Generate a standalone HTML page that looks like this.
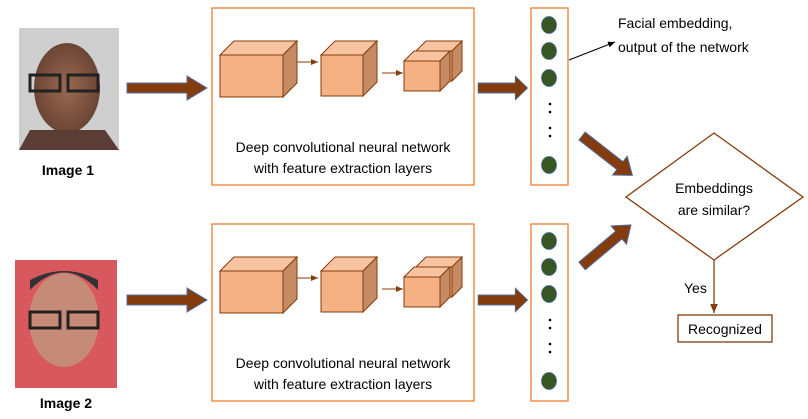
<!DOCTYPE html>
<html><head><style>
body{margin:0;background:#fff;width:808px;height:414px;overflow:hidden;font-family:"Liberation Sans",sans-serif}
</style></head><body>
<svg width="808" height="414" viewBox="0 0 808 414" xmlns="http://www.w3.org/2000/svg" font-family="Liberation Sans, sans-serif">
<defs>
<marker id="ah" markerWidth="8" markerHeight="8" refX="7" refY="4" orient="auto"><path d="M0,1 L7,4 L0,7z" fill="#843c0c"/></marker>
<marker id="ak" markerWidth="8" markerHeight="8" refX="7" refY="4" orient="auto"><path d="M0,1 L7,4 L0,7z" fill="#000"/></marker>
<g id="fat"><path d="M0,-5 L60,-5 L60,-12 L80,0 L60,12 L60,5 L0,5z" fill="#843c0c" stroke="#4f6fa8" stroke-width="1"/></g>
<g id="cube">
<path d="M0,14 L14,0 L77,0 L63,14z" fill="#f8c3a0" stroke="#843c0c"/>
</g>
<radialGradient id="face1" cx="50%" cy="50%" r="50%"><stop offset="0" stop-color="#9a6a50"/><stop offset="1" stop-color="#6b4535"/></radialGradient>
</defs>

<!-- photos -->
<rect x="19" y="28" width="100" height="122" fill="#cfcfcf"/>
<ellipse cx="67" cy="88" rx="33" ry="45" fill="url(#face1)"/>
<rect x="30" y="75" width="30" height="16" fill="none" stroke="#222" stroke-width="3"/>
<rect x="68" y="75" width="30" height="16" fill="none" stroke="#222" stroke-width="3"/>
<path d="M19,150 L30,130 L105,130 L119,150z" fill="#5a3d35"/>
<text x="68" y="175" font-size="14" font-weight="bold" text-anchor="middle">Image 1</text>

<rect x="15" y="260" width="102" height="128" fill="#d8585e"/>
<ellipse cx="64" cy="320" rx="35" ry="47" fill="#c68a78"/>
<path d="M30,290 Q64,255 98,290 L98,280 Q64,262 30,280z" fill="#333"/>
<rect x="30" y="312" width="30" height="16" fill="none" stroke="#222" stroke-width="3"/>
<rect x="68" y="312" width="30" height="16" fill="none" stroke="#222" stroke-width="3"/>
<text x="66" y="408" font-size="14" font-weight="bold" text-anchor="middle">Image 2</text>

<!-- fat arrows -->
<use href="#fat" transform="translate(127,88)"/>
<use href="#fat" transform="translate(127,300)"/>
<use href="#fat" transform="translate(478,88) scale(0.62,1)"/>
<use href="#fat" transform="translate(478,300) scale(0.62,1)"/>
<use href="#fat" transform="translate(582,136) rotate(38) scale(0.8,1)"/>
<use href="#fat" transform="translate(582,266) rotate(-40) scale(0.8,1)"/>

<g id="row">
<rect x="212" y="8" width="262" height="177" fill="#fff" stroke="#ed7d31" stroke-width="1.3"/>
<!-- cube1 -->
<path d="M220,55 L234,41 L297,41 L283,55z" fill="#f8c3a0" stroke="#843c0c"/>
<path d="M283,55 L297,41 L297,83 L283,97z" fill="#c48b65" stroke="#843c0c"/>
<rect x="220" y="55" width="63" height="42" fill="#f4b183" stroke="#843c0c"/>
<line x1="297" y1="62" x2="318" y2="62" stroke="#843c0c" marker-end="url(#ah)"/>
<!-- cube2 -->
<path d="M321,55 L335,41 L377,41 L363,55z" fill="#f8c3a0" stroke="#843c0c"/>
<path d="M363,55 L377,41 L377,82 L363,96z" fill="#c48b65" stroke="#843c0c"/>
<rect x="321" y="55" width="42" height="41" fill="#f4b183" stroke="#843c0c"/>
<line x1="382" y1="73" x2="403" y2="73" stroke="#843c0c" marker-end="url(#ah)"/>
<!-- cube3 back -->
<path d="M416,51 L426,41 L462,41 L452,51z" fill="#f8c3a0" stroke="#843c0c"/>
<path d="M452,51 L462,41 L462,71 L452,81z" fill="#c48b65" stroke="#843c0c"/>
<rect x="416" y="51" width="36" height="30" fill="#f4b183" stroke="#843c0c"/>
<!-- cube3 front -->
<path d="M404,61 L414,51 L450,51 L440,61z" fill="#f8c3a0" stroke="#843c0c"/>
<path d="M440,61 L450,51 L450,81 L440,91z" fill="#c48b65" stroke="#843c0c"/>
<rect x="404" y="61" width="36" height="30" fill="#f4b183" stroke="#843c0c"/>
<text x="343" y="152" font-size="14" text-anchor="middle">Deep convolutional neural network</text>
<text x="343" y="173" font-size="14" text-anchor="middle">with feature extraction layers</text>
<rect x="531" y="8" width="37" height="177" fill="#fff" stroke="#ed7d31" stroke-width="1.3"/>
<g fill="#375623" stroke="#4a6ea8" stroke-width="0.8">
<ellipse cx="549" cy="25" rx="7.5" ry="8.5"/>
<ellipse cx="549" cy="51" rx="7.5" ry="8.5"/>
<ellipse cx="549" cy="78" rx="7.5" ry="8.5"/>
<ellipse cx="549" cy="165" rx="7.5" ry="8.5"/>
</g>
<g fill="#000"><circle cx="550" cy="104" r="1.3"/><circle cx="550" cy="112" r="1.3"/><circle cx="550" cy="128" r="1.3"/><circle cx="550" cy="136" r="1.3"/></g>
</g>
<use href="#row" transform="translate(0,216)"/>

<line x1="569" y1="60" x2="615" y2="42" stroke="#000" marker-end="url(#ak)"/>
<text x="618" y="28" font-size="14">Facial embedding,</text>
<text x="618" y="52" font-size="14">output of the network</text>

<path d="M626,197 L714,133 L803,197 L714,260z" fill="#fff" stroke="#843c0c" stroke-width="1.3"/>
<text x="714" y="193" font-size="14" text-anchor="middle">Embeddings</text>
<text x="714" y="215" font-size="14" text-anchor="middle">are similar?</text>
<line x1="714" y1="260" x2="714" y2="313" stroke="#843c0c" stroke-width="1.3" marker-end="url(#ah)"/>
<text x="684" y="293" font-size="14">Yes</text>
<rect x="678" y="315" width="94" height="27" fill="#fff" stroke="#843c0c" stroke-width="1.3"/>
<text x="725" y="334" font-size="14" text-anchor="middle">Recognized</text>
</svg>
</body></html>
